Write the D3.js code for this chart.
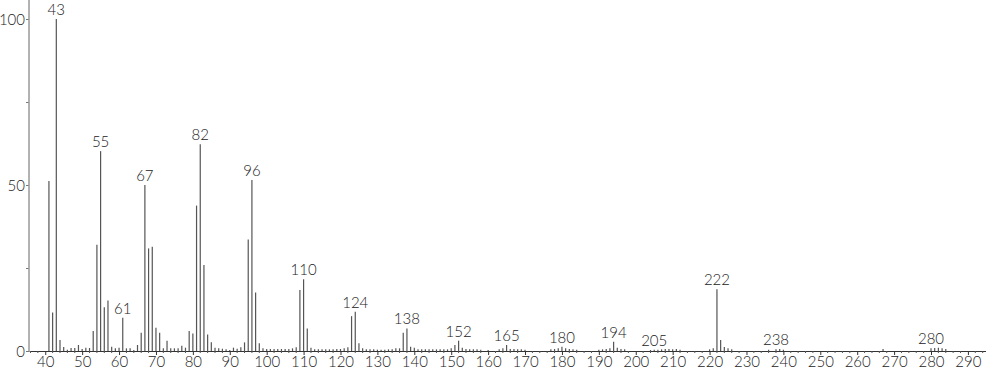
<!DOCTYPE html>
<html>
<head>
<meta charset="utf-8">
<script src="https://cdn.jsdelivr.net/npm/d3@7"></script>
<style>
  body { margin: 0; background: #fff; }
  #main svg { display: block; }
  .lbl { font-family: Lato, "Open Sans", sans-serif; font-weight: 300; font-size: 15px; fill: #222; }
</style>
</head>
<body>
<div id="main"></div>
<script>
// m/z values and relative intensities
const mzValues = [
  41, 42, 43, 44, 45, 46, 47, 48, 49, 50, 51, 52, 53, 54, 55, 56, 57, 58, 59, 60,
  61, 62, 63, 64, 65, 66, 67, 68, 69, 70, 71, 72, 73, 74, 75, 76, 77, 78, 79, 80,
  81, 82, 83, 84, 85, 86, 87, 88, 89, 90, 91, 92, 93, 94, 95, 96, 97, 98, 99, 100,
  101, 102, 103, 104, 105, 106, 107, 108, 109, 110, 111, 112, 113, 114, 115, 116, 117, 118, 119, 120,
  121, 122, 123, 124, 125, 126, 127, 128, 129, 130, 131, 132, 133, 134, 135, 136, 137, 138, 139, 140,
  141, 142, 143, 144, 145, 146, 147, 148, 149, 150, 151, 152, 153, 154, 155, 156, 157, 158, 160,
  163, 164, 165, 166, 167, 168, 169, 170, 177, 178, 179, 180, 181, 182, 183, 184,
  190, 191, 192, 193, 194, 195, 196, 197, 204, 205, 206, 207, 208, 209, 210, 211, 212,
  220, 221, 222, 223, 224, 225, 226, 236, 238, 239, 240, 267, 280, 281, 282, 283, 284
];
const intensities = [
  51.2, 11.6, 100, 3.3, 1.2, 0.4, 0.9, 0.9, 1.8, 0.6, 1.0, 0.9, 6.0, 32.0, 60.2, 13.2, 15.2, 1.3, 0.8, 1.0,
  10.0, 0.8, 0.8, 0.3, 1.8, 5.5, 50.0, 30.9, 31.4, 7.0, 5.5, 0.8, 3.1, 0.8, 0.8, 0.8, 1.6, 1.0, 6.0, 5.3,
  43.8, 62.3, 25.9, 5.0, 2.6, 1.0, 0.8, 0.7, 0.5, 0.3, 1.0, 0.7, 1.1, 2.6, 33.6, 51.5, 17.6, 2.3, 0.8, 0.6,
  0.6, 0.6, 0.6, 0.6, 0.6, 0.6, 0.8, 1.1, 18.4, 21.6, 6.8, 1.0, 0.5, 0.5, 0.5, 0.5, 0.5, 0.5, 0.6, 0.6,
  0.8, 1.1, 10.5, 11.8, 2.3, 0.8, 0.5, 0.5, 0.5, 0.4, 0.4, 0.4, 0.5, 0.5, 0.8, 0.8, 5.5, 6.8, 1.3, 1.0,
  0.5, 0.5, 0.5, 0.5, 0.5, 0.5, 0.5, 0.5, 0.5, 0.8, 1.8, 3.1, 1.0, 0.6, 0.5, 0.5, 0.5, 0.4, 0.3,
  0.5, 0.8, 1.8, 0.6, 0.6, 0.5, 0.5, 0.4, 0.5, 0.6, 0.8, 1.3, 0.8, 0.6, 0.5, 0.4,
  0.4, 0.5, 0.6, 0.8, 2.8, 1.0, 0.6, 0.5, 0.3, 0.4, 0.4, 0.5, 0.6, 0.6, 0.5, 0.6, 0.4,
  0.5, 0.8, 18.6, 3.3, 1.2, 0.8, 0.5, 0.4, 0.5, 0.6, 0.4, 0.6, 0.8, 0.9, 1.0, 0.8, 0.6
];
const labeledPeaks = [43, 55, 61, 67, 82, 96, 110, 124, 138, 152, 165, 180, 194, 205, 222, 238, 280];
const xTickValues = d3.range(40, 291, 10);
const yTickValues = [0, 25, 50, 75, 100];
const yTickLabels = ['0', '', '50', '', '100'];

class Spectrum {
  constructor() {
    this.width = 986;
    this.height = 373;
    this.axisX = 29;
    this.axisY = 351;
    this.container = d3.select('#main');
    this.peaks = mzValues.map((m, i) => ({ mz: m, value: intensities[i] }));
    this.render();
  }
  render() {
    var svg = this.container.append('svg')
      .attr('width', this.width)
      .attr('height', this.height);

    var x = d3.scaleLinear()
      .domain([35.6, 294.9])
      .range([this.axisX, this.width]);
    var y = d3.scaleLinear()
      .domain([0, 100])
      .range([this.axisY, 19]);

    // stick peaks
    svg.append('g')
      .selectAll('line')
      .data(this.peaks)
      .enter().append('line')
        .attr('x1', (d) => x(d.mz))
        .attr('x2', (d) => x(d.mz))
        .attr('y1', y(0))
        .attr('y2', (d) => y(d.value))
        .attr('stroke', '#555')
        .attr('stroke-width', 1.2);

    // x axis
    var xAxis = svg.append('g')
      .attr('transform', 'translate(0,' + this.axisY + ')')
      .call(d3.axisBottom(x).tickValues(xTickValues).tickSize(4).tickSizeOuter(0).tickPadding(1));
    xAxis.select('.domain').attr('stroke', '#333');
    xAxis.selectAll('.tick line').attr('stroke', '#333');
    xAxis.selectAll('text').attr('class', 'lbl');

    // minor ticks every 2 units
    svg.append('g')
      .selectAll('line')
      .data(d3.range(36, 295, 2).filter((v) => v % 10 !== 0))
      .enter().append('line')
        .attr('x1', (d) => x(d))
        .attr('x2', (d) => x(d))
        .attr('y1', this.axisY)
        .attr('y2', this.axisY + 2)
        .attr('stroke', '#555');

    // y axis
    var yAxis = svg.append('g')
      .attr('transform', 'translate(' + this.axisX + ',0)')
      .call(d3.axisLeft(y).tickValues(yTickValues).tickFormat((d, i) => yTickLabels[i]).tickSize(3).tickSizeOuter(0).tickPadding(1));
    yAxis.select('.domain').remove();
    yAxis.selectAll('.tick line').attr('stroke', '#777');
    yAxis.selectAll('text').attr('class', 'lbl').attr('dy', '0.35em');
    svg.append('line')
      .attr('x1', this.axisX).attr('x2', this.axisX)
      .attr('y1', 0).attr('y2', this.axisY)
      .attr('stroke', '#999')
      .attr('stroke-width', 1.5);

    // peak labels
    var labelled = this.peaks.filter((d) => labeledPeaks.indexOf(d.mz) >= 0);
    svg.append('g')
      .selectAll('text')
      .data(labelled)
      .enter().append('text')
        .attr('class', 'lbl')
        .attr('x', (d) => x(d.mz))
        .attr('y', (d) => y(d.value) - 4)
        .attr('text-anchor', 'middle')
        .text((d) => d.mz);
  }
}

var app = new Spectrum();
</script>
</body>
</html>
